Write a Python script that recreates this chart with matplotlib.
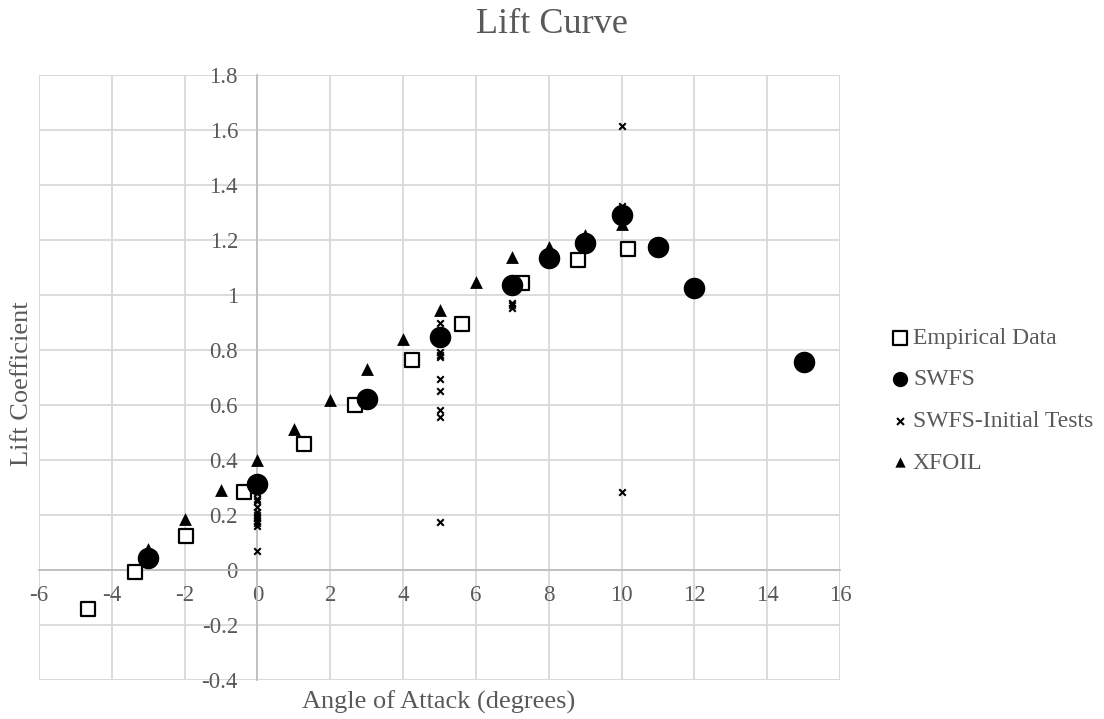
#!/usr/bin/env python3
# -*- coding: utf-8 -*-
"""Lift curve: empirical data vs SWFS vs XFOIL"""

import matplotlib
matplotlib.use('Agg')
import matplotlib.pyplot as plt

plt.rcParams['font.family'] = ['Liberation Serif', 'DejaVu Serif']
plt.rcParams['axes.unicode_minus'] = False

# Empirical Data
emp_aoa = [-4.64, -3.35, -1.97, -0.36, 1.28, 2.68, 4.24, 5.62, 7.26, 8.79, 10.19]
emp_cl = [-0.143, -0.007, 0.124, 0.284, 0.457, 0.600, 0.764, 0.895, 1.043, 1.127, 1.166]

# SWFS
swfs_aoa = [-3, 0, 3, 5, 7, 8, 9, 10, 11, 12, 15]
swfs_cl = [0.045, 0.312, 0.621, 0.848, 1.036, 1.136, 1.190, 1.291, 1.176, 1.027, 0.757]

# SWFS-Initial Tests
init_aoa = [0, 0, 0, 0, 0, 0, 0, 0, 0, 0, 0,
            5, 5, 5, 5, 5, 5, 5, 5, 5,
            7, 7, 7,
            10, 10, 10]
init_cl = [0.28, 0.26, 0.25, 0.23, 0.21, 0.20, 0.19, 0.18, 0.17, 0.16, 0.069,
           0.897, 0.794, 0.782, 0.775, 0.693, 0.652, 0.582, 0.555, 0.176,
           0.972, 0.962, 0.952,
           1.615, 1.325, 0.285]

# XFOIL
xfoil_aoa = [-3, -2, -1, 0, 1, 2, 3, 4, 5, 6, 7, 8, 9, 10]
xfoil_cl = [0.075, 0.184, 0.29, 0.40, 0.512, 0.618, 0.73, 0.839, 0.945, 1.049, 1.139, 1.175, 1.22, 1.258]

y_ticks = [-0.4, -0.2, 0, 0.2, 0.4, 0.6, 0.8, 1, 1.2, 1.4, 1.6, 1.8]
y_ticklabels = ['-0.4', '-0.2', '0', '0.2', '0.4', '0.6', '0.8', '1', '1.2', '1.4', '1.6', '1.8']
x_ticks = list(range(-6, 17, 2))

text_color = '#595959'
grid_color = '#d9d9d9'

fig = plt.figure(figsize=(11.04, 7.19), dpi=100)
ax = fig.add_axes([0.0353, 0.0542, 0.7256, 0.8415])

ax.scatter(emp_aoa, emp_cl, marker='s', s=110, facecolor='white', edgecolor='black',
           linewidth=1.6, zorder=3, label='Empirical Data')
ax.scatter(swfs_aoa, swfs_cl, marker='o', s=210, color='black', zorder=6, label='SWFS')
ax.scatter(init_aoa, init_cl, marker='x', s=22, color='black', linewidth=1.5,
           zorder=4, label='SWFS-Initial Tests')
ax.scatter(xfoil_aoa, xfoil_cl, marker='^', s=85, color='black', linewidth=0,
           zorder=5, label='XFOIL')

ax.set_xlim(-6, 16)
ax.set_ylim(-0.4, 1.8)
ax.set_xticks(x_ticks)
ax.set_yticks(y_ticks)
ax.set_yticklabels(y_ticklabels)

# axes crossing at zero, like Excel
ax.spines['left'].set_position(('data', 0))
ax.spines['bottom'].set_position(('data', 0))
ax.spines['left'].set_color('#bfbfbf')
ax.spines['bottom'].set_color('#bfbfbf')
ax.spines['left'].set_linewidth(1.3)
ax.spines['bottom'].set_linewidth(1.3)
ax.spines['top'].set_visible(False)
ax.spines['right'].set_visible(False)
ax.tick_params(axis='y', length=0, labelsize=16.5, colors=text_color, pad=14)
ax.tick_params(axis='x', length=0, labelsize=16.5, colors=text_color, pad=11)

ax.grid(True, color=grid_color, linewidth=1.3, zorder=0)
ax.set_axisbelow(True)
# outer frame in the grid colour
for v in (-6, 16):
    ax.axvline(v, color=grid_color, linewidth=1.3, zorder=0.5)
for h in (-0.4, 1.8):
    ax.axhline(h, color=grid_color, linewidth=1.3, zorder=0.5)

fig.text(0.5, 0.954, 'Lift Curve', ha='center', va='baseline', fontsize=26, color=text_color)
fig.text(0.3977, 0.0139, 'Angle of Attack (degrees)', ha='center', va='baseline',
         fontsize=19, color=text_color)
fig.text(0.02, 0.466, 'Lift Coefficient', ha='center', va='center', rotation=90,
         fontsize=19, color=text_color)

leg = ax.legend(loc='center left', bbox_to_anchor=(1.063, 0.462), frameon=False,
                fontsize=17, handlelength=0.8, handletextpad=0.15, labelspacing=0.85,
                borderpad=0, borderaxespad=0, labelcolor=text_color)
for h, size in zip(leg.legend_handles, [88, 100, 25, 55]):
    h.set_sizes([size])

plt.savefig('out.png', dpi=100)
